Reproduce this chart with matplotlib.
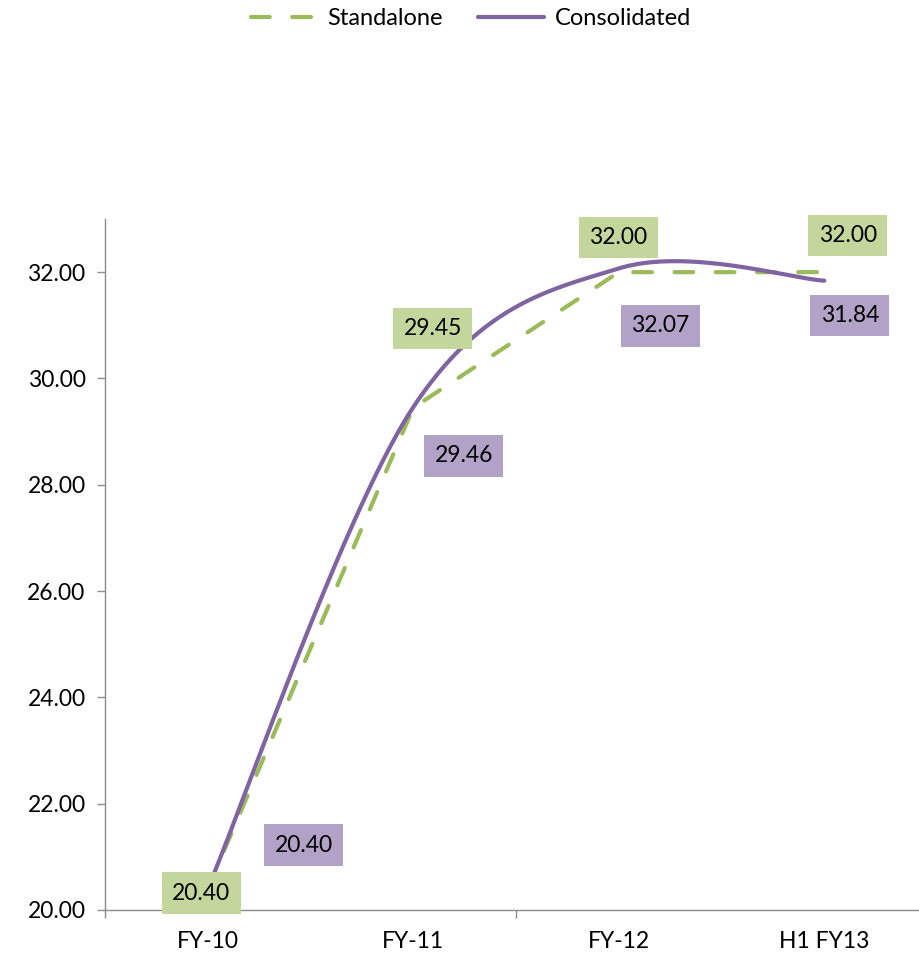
import numpy as np
import matplotlib.pyplot as plt
from matplotlib.lines import Line2D

plt.rcParams['font.family'] = ['Lato', 'DejaVu Sans']

categories = ['FY-10', 'FY-11', 'FY-12', 'H1 FY13']
standalone = [20.40, 29.45, 32.00, 32.00]
consolidated = [20.40, 29.46, 32.07, 31.84]

green = '#9bbb59'
purple = '#8064a2'
green_box = '#c3d69b'
purple_box = '#b3a2c7'
axis_grey = '#8c8c8c'

# where each value box sits relative to its point, in points (dx, dy)
standalone_offsets = [(-4.7, -3.2), (14.0, 56.9), (-0.4, 25.0), (16.9, 26.4)]
consolidated_offsets = [(69.1, 31.3), (36.4, -35.0), (29.9, -41.4), (18.4, -25.2)]


def smooth_curve(values, n=60):
    # bezier smoothing like an office "smoothed line" series
    pts = np.column_stack([np.arange(len(values), dtype=float), values])
    out = []
    for i in range(len(pts) - 1):
        p0 = pts[i - 1] if i > 0 else pts[i]
        p1, p2 = pts[i], pts[i + 1]
        p3 = pts[i + 2] if i + 2 < len(pts) else pts[i + 1]
        c1 = p1 + (p2 - p0) / 6
        c2 = p2 - (p3 - p1) / 6
        t = np.linspace(0, 1, n)[:, None]
        seg = (1 - t)**3 * p1 + 3 * (1 - t)**2 * t * c1 + 3 * (1 - t) * t**2 * c2 + t**3 * p2
        out.append(seg if i == 0 else seg[1:])
    return np.vstack(out)


fig = plt.figure(figsize=(9.2, 9.57), dpi=100)
ax = fig.add_axes([105 / 920, 47 / 957, 822 / 920, 691 / 957])

x = np.arange(len(categories))
ax.plot(x, standalone, color=green, lw=3, dashes=(4.5, 5.4),
        dash_capstyle='round', solid_capstyle='round', zorder=3)
curve = smooth_curve(consolidated)
ax.plot(curve[:, 0], curve[:, 1], color=purple, lw=3,
        solid_capstyle='round', zorder=4)

for xi, v, off in zip(x, standalone, standalone_offsets):
    ax.annotate(f'{v:.2f}', (xi, v), xytext=off, textcoords='offset points',
                ha='center', va='center', fontsize=16.5, zorder=6,
                bbox=dict(boxstyle='square,pad=0.45', fc=green_box, ec='none'))
for xi, v, off in zip(x, consolidated, consolidated_offsets):
    ax.annotate(f'{v:.2f}', (xi, v), xytext=off, textcoords='offset points',
                ha='center', va='center', fontsize=16.5, zorder=6,
                bbox=dict(boxstyle='square,pad=0.45', fc=purple_box, ec='none'))

ax.set_xlim(-0.5, 3.5)
ax.set_ylim(20, 33)
ax.set_yticks(np.arange(20, 33, 2))
ax.set_yticklabels([f'{v:.2f}' for v in np.arange(20, 33, 2)])
ax.set_xticks(x)
ax.set_xticklabels(categories)
ax.set_xticks([-0.5, 1.5, 3.5], minor=True)
ax.tick_params(axis='x', which='major', length=0, pad=15, labelsize=16.5)
ax.tick_params(axis='x', which='minor', length=6, width=1, color=axis_grey, direction='out')
ax.tick_params(axis='y', length=6, width=1, color=axis_grey, pad=8, labelsize=16.5)

for side in ['top', 'right']:
    ax.spines[side].set_visible(False)
for side in ['left', 'bottom']:
    ax.spines[side].set_color(axis_grey)
    ax.spines[side].set_linewidth(1)

handles = [
    Line2D([], [], color=green, lw=3, dashes=(4.5, 5.4), dash_capstyle='round'),
    Line2D([], [], color=purple, lw=3, solid_capstyle='round'),
]
fig.legend(handles, ['Standalone', 'Consolidated'], loc='upper center',
           bbox_to_anchor=(0.512, 1.014), ncol=2, frameon=False, fontsize=17,
           handlelength=2.8, handletextpad=0.45, columnspacing=1.5)

fig.savefig('out.png', dpi=100)
